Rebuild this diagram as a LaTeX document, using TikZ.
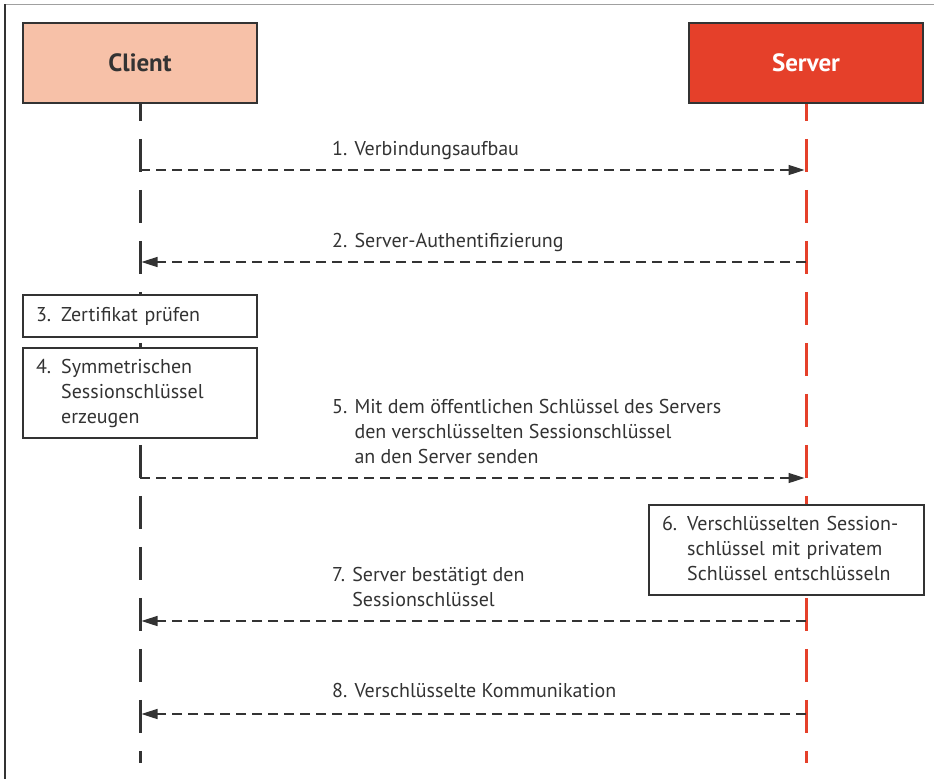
\documentclass[tikz,border=0pt]{standalone}
\usepackage{fontspec}
\setmainfont{PT Sans}
\usetikzlibrary{arrows.meta}
\definecolor{srvred}{HTML}{E5402A}
\definecolor{clisalmon}{HTML}{F7C1A8}
\definecolor{ink}{HTML}{333333}
\definecolor{framegray}{HTML}{A0A0A0}
\begin{document}
\begin{tikzpicture}[x=1pt,y=-1pt,
  head/.style={draw=ink, line width=1.6pt, minimum width=234pt, minimum height=80pt, inner sep=0pt,
    font=\fontsize{25}{28}\selectfont\bfseries},
  stepbox/.style={draw=ink, line width=1.4pt, fill=white, inner xsep=13pt, inner ysep=0pt,
    font=\fontsize{20}{25}\selectfont, align=left, text=ink},
  msg/.style={draw=ink, line width=1.6pt, dash pattern=on 10pt off 6pt,
    -{Triangle[length=16pt,width=10pt]}},
  lbl/.style={anchor=base west, font=\fontsize{20}{25}\selectfont, inner sep=0pt, text=ink},
  life/.style={line width=3pt, dash pattern=on 33pt off 18pt}]
\useasboundingbox (0,0) rectangle (935,779);
% frame
\draw[framegray, line width=1.5pt] (5,4.5) -- (934,4.5);
\draw[ink, line width=1.5pt] (5,4) -- (5,779);
% headers
\node[head, fill=clisalmon, text=ink] (C) at (140,63) {Client};
\node[head, fill=srvred, text=white] (S) at (806,63) {Server};
\coordinate (Cend) at (140,763);
\coordinate (Send) at (806,763);
% lifelines
\draw[life, ink, dash phase=16pt] (C.south) -- (Cend);
\draw[life, srvred, dash phase=16pt] (S.south) -- (Send);
% step boxes
\node[stepbox, text width=208pt, minimum height=42pt] (b3) at (140,316) {3. Zertifikat prüfen};
\node[stepbox, text width=208pt, minimum height=90pt] (b4) at (140,393)
  {4. \begin{tabular}[t]{@{}l@{}}Symmetrischen\\Sessionschlüssel\\erzeugen\end{tabular}};
\node[stepbox, text width=249pt, minimum height=90pt] (b6) at (786.5,550)
  {6. \begin{tabular}[t]{@{}l@{}}Verschlüsselten Session-\\schlüssel mit privatem\\Schlüssel entschlüsseln\end{tabular}};
% message end points
\coordinate (c1) at (140,170);   \coordinate (s1) at (804.5,170);
\coordinate (s2) at (806,262);   \coordinate (c2) at (141.5,262);
\coordinate (c5) at (140,478);   \coordinate (s5) at (804.5,478);
\coordinate (s7) at (806,621);   \coordinate (c7) at (141.5,621);
\coordinate (s8) at (806,714);   \coordinate (c8) at (141.5,714);
\draw[msg] (c1) -- (s1);
\draw[msg] (s2) -- (c2);
\draw[msg] (c5) -- (s5);
\draw[msg] (s7) -- (c7);
\draw[msg] (s8) -- (c8);
% labels
\node[lbl] (l1) at (332,155) {1. Verbindungsaufbau};
\node[lbl] (l2) at (332,247) {2. Server-Authentifizierung};
\node[lbl] (l5) at (332,413) {5. \begin{tabular}[t]{@{}l@{}}Mit dem öffentlichen Schlüssel des Servers\\den verschlüsselten Sessionschlüssel\\an den Server senden\end{tabular}};
\node[lbl] (l7) at (332,581) {7. \begin{tabular}[t]{@{}l@{}}Server bestätigt den\\Sessionschlüssel\end{tabular}};
\node[lbl] (l8) at (332,697) {8. Verschlüsselte Kommunikation};
\end{tikzpicture}
\end{document}
